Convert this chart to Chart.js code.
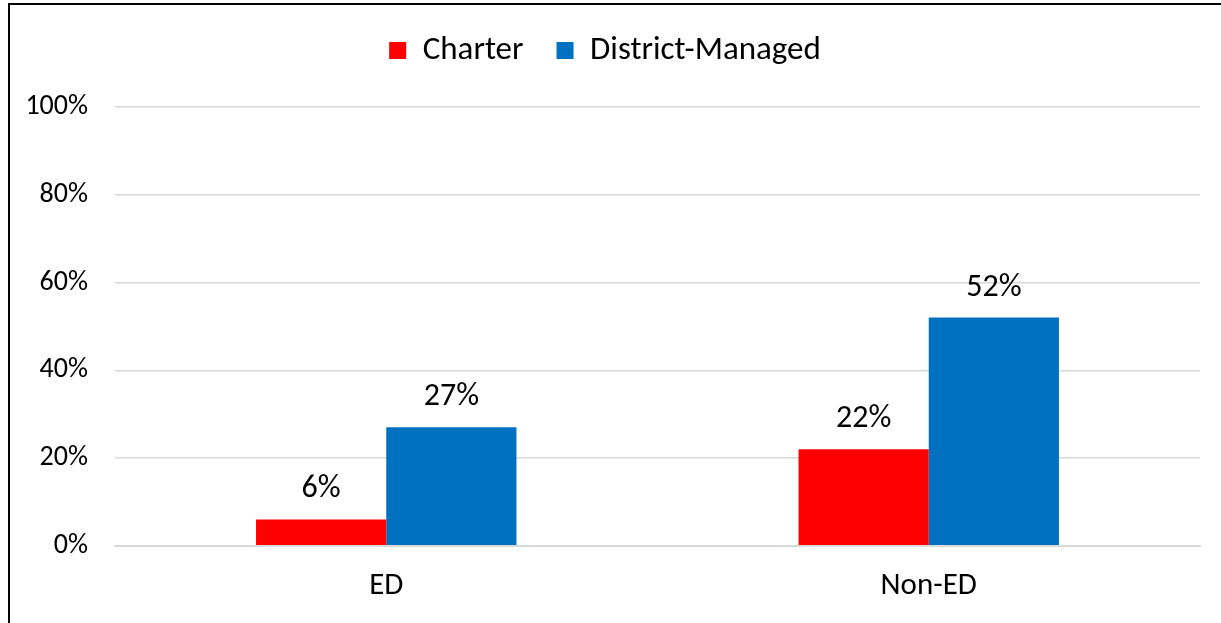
<!DOCTYPE html>
<html>
<head>
<meta charset="utf-8">
<script src="https://cdn.jsdelivr.net/npm/chart.js@4/dist/chart.umd.min.js"></script>
<style>
  html, body { margin: 0; padding: 0; background: #fff; }
  #frame {
    position: absolute; left: 8px; top: 3px; width: 1213px; height: 620px;
    border-left: 2px solid #000; border-top: 2px solid #000;
  }
  #wrap { position: absolute; left: 0; top: 0; width: 1211px; height: 618px; }
</style>
</head>
<body>
<div id="frame"><div id="wrap"><canvas id="chart"></canvas></div></div>
<script>
const categories = ['ED', 'Non-ED'];
const charterValues = [6, 22];
const districtValues = [27, 52];
const yTicks = [0, 20, 40, 60, 80, 100];

const FONT = "Carlito, 'Liberation Sans', 'Noto Sans', sans-serif";

// labels above each bar
const barLabels = {
    id: 'barLabels',
    afterDatasetsDraw(chart) {
        const ctx = chart.ctx;
        ctx.save();
        ctx.font = '32px ' + FONT;
        ctx.fillStyle = '#000';
        ctx.textAlign = 'center';
        ctx.textBaseline = 'alphabetic';
        chart.data.datasets.forEach((ds, i) => {
            chart.getDatasetMeta(i).data.forEach((bar, j) => {
                ctx.fillText(ds.data[j] + '%', bar.x, bar.y - 22);
            });
        });
        ctx.restore();
    },
};

// extra gap under the legend
const legendGap = {
    id: 'legendGap',
    beforeInit(chart) {
        const fit = chart.legend.fit;
        chart.legend.fit = function () {
            fit.bind(chart.legend)();
            this.height += 30;
        };
    },
};

new Chart(document.getElementById('chart'), {
    type: 'bar',
    data: {
        labels: categories,
        datasets: [
            { label: 'Charter', data: charterValues, backgroundColor: '#ff0000', categoryPercentage: 0.48, barPercentage: 1 },
            { label: 'District-Managed', data: districtValues, backgroundColor: '#0070c0', categoryPercentage: 0.48, barPercentage: 1 },
        ],
    },
    options: {
        responsive: true,
        maintainAspectRatio: false,
        animation: false,
        layout: { padding: { left: 0, right: 21, top: -4, bottom: 4 } },
        plugins: {
            legend: {
                position: 'top',
                labels: { boxWidth: 17, boxHeight: 17, padding: 33, color: '#000', font: { family: FONT, size: 33 } },
            },
            tooltip: { enabled: false },
        },
        scales: {
            x: {
                grid: { display: false },
                border: { color: '#d9d9d9', width: 2 },
                ticks: { color: '#000', font: { family: FONT, size: 31 }, padding: 14 },
            },
            y: {
                min: 0,
                max: 100,
                afterBuildTicks(scale) { scale.ticks = yTicks.map(v => ({ value: v })); },
                afterFit(scale) { scale.width = 105; },
                grid: { color: '#d9d9d9', lineWidth: 1.5, drawTicks: false },
                border: { display: false },
                ticks: { color: '#000', font: { family: FONT, size: 28 }, padding: 27, callback: v => v + '%' },
            },
        },
    },
    plugins: [barLabels, legendGap],
});
</script>
</body>
</html>
